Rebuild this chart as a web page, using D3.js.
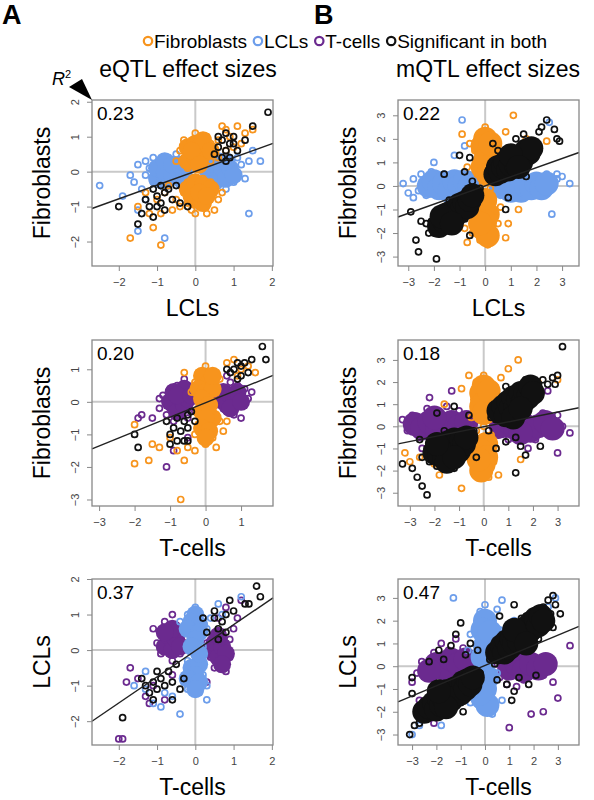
<!DOCTYPE html>
<html><head><meta charset="utf-8">
<script src="https://cdn.jsdelivr.net/npm/d3@7"></script>
<style>body{margin:0;background:#fff}text{font-family:Arial,"Liberation Sans",sans-serif}</style>
</head><body><svg id="c" width="594" height="800"></svg>
<script>
const legendLabels=["Fibroblasts","LCLs","T-cells","Significant in both"];
const r2Labels=["0.23","0.22","0.20","0.18","0.37","0.47"];
const xTitles=["LCLs","LCLs","T-cells","T-cells","T-cells","T-cells"];
const yTitles=["Fibroblasts","Fibroblasts","Fibroblasts","Fibroblasts","LCLs","LCLs"];
const xTicks=[[-2,-1,0,1,2],[-3,-2,-1,0,1,2,3],[-3,-2,-1,0,1],[-3,-2,-1,0,1,2,3],[-2,-1,0,1,2],[-3,-2,-1,0,1,2,3]];
const yTicks=[[-2,-1,0,1,2],[-3,-2,-1,0,1,2,3],[-3,-2,-1,0,1],[-3,-2,-1,0,1,2,3],[-2,-1,0,1,2],[-3,-2,-1,0,1,2,3]];
const fitSlope=[0.394,0.388,0.443,0.222,0.734,0.445];
const fitIntercept=[0.01,0.0,-0.03,-0.02,-0.02,0.03];

const blueA1=[[-2.5,-0.4],[-1.9,-0.7],[-1.7,-0.1],[-1.6,-0.3],[-1.5,0.2],[-1.4,-0.5],[-1.3,0.3],[-1.3,-0.1],[-1.2,0.1],[-1.1,-0.3],[-1.1,0.4],[-1.0,0.0],[-1.0,0.2],[-0.9,-0.2],[-0.9,0.3],[-0.8,0.1],[-0.8,-0.4],[-0.7,0.0],[-0.7,0.4],[-0.6,-0.2],[-0.6,0.2],[-0.5,0.5],[-0.5,-0.1],[-0.4,0.1],[-0.4,-0.4],[-0.3,0.3],[-0.2,0.0],[0.2,0.0],[0.3,-0.3],[0.4,0.2],[0.5,-0.1],[0.5,0.3],[0.6,0.0],[0.6,-0.4],[0.7,0.2],[0.7,-0.2],[0.8,0.0],[0.8,-0.5],[0.9,0.3],[0.9,-0.1],[1.0,0.1],[1.0,-0.3],[1.1,0.4],[1.1,-0.1],[1.2,0.2],[1.3,-0.2],[1.4,0.3],[1.5,0.6],[1.7,0.3],[1.4,-1.2],[-1.5,-1.7],[-0.8,-1.9],[-1.5,-1.1],[-1.3,-0.8]];
const coreBlueA1=[[-1.0,-0.2],[-1.0,0.1],[-0.8,-0.3],[-0.8,0.0],[-0.8,0.3],[-0.6,-0.1],[-0.6,0.2],[-0.4,-0.2],[-0.4,0.2],[-0.3,0.0],[0.3,0.1],[0.4,-0.2],[0.5,0.1],[0.6,-0.2],[0.7,0.1],[0.8,-0.2],[0.9,0.1],[1.0,-0.1],[0.6,0.3],[0.8,0.3]];
const orangeA1=[[-0.4,0.6],[-0.3,0.3],[-0.3,0.9],[-0.2,0.5],[-0.2,0.1],[-0.1,0.8],[-0.1,0.4],[0,1.1],[0,0.6],[0,0.2],[0.1,0.9],[0.1,0.5],[0.2,0.7],[0.2,0.3],[0.3,1.0],[0.3,0.5],[0.4,0.8],[0.4,0.3],[0.5,0.6],[0.6,0.9],[-0.5,0.3],[0.6,0.4],[-0.3,-0.6],[-0.2,-0.3],[-0.2,-0.9],[-0.1,-0.5],[-0.1,-1.1],[0,-0.2],[0,-0.7],[0.1,-0.4],[0.1,-1.0],[0.2,-0.6],[0.2,-0.2],[0.3,-0.9],[0.3,-0.5],[0.4,-0.3],[0.4,-0.7],[0.5,-0.5],[0.6,-0.8],[-0.4,-1.0],[0.0,-1.2],[0.3,-1.2],[0.5,-1.1],[0.7,-0.6],[-1.7,-1.9],[-1.5,-1.0],[-1.2,-1.2],[-1.0,-0.8],[-0.9,-1.2],[-0.8,-0.6],[-0.6,-1.1],[-0.5,-0.8],[-0.7,-0.4],[0.8,1.2],[0.9,1.0],[1.0,0.7],[1.1,1.3],[1.2,0.8],[1.3,1.1],[0.7,1.3],[1.5,1.2],[-1.1,-1.6],[-0.9,-2.1],[0.8,0.6],[-1.3,-0.6]];
const coreOrangeA1=[[-0.2,0.3],[-0.2,0.7],[0,0.4],[0,0.8],[0.2,0.5],[0.2,0.9],[0.4,0.6],[-0.1,0.6],[0.1,0.2],[-0.2,-0.5],[0,-0.3],[0,-0.8],[0.2,-0.4],[0.2,-0.9],[0.4,-0.5],[-0.1,-0.7],[0.1,-0.6],[0.3,-0.7]];
const blackA1=[[-2.0,-1.0],[-1.5,-1.5],[-1.4,-1.2],[-1.3,-0.8],[-1.2,-1.0],[-1.1,-0.5],[-1.1,-1.3],[-1.0,-0.7],[-1.0,-1.0],[-0.9,-0.4],[-0.9,-0.9],[-0.8,-0.6],[-0.8,-1.1],[-0.7,-0.5],[-0.6,-0.8],[-0.5,-0.4],[-0.4,-0.9],[-0.2,-1.0],[1.9,1.7],[1.5,1.3],[1.3,0.9],[1.1,0.6],[1.0,1.0],[0.9,0.8],[0.9,0.4],[0.8,1.1],[0.8,0.6],[0.7,0.9],[0.7,0.4],[0.6,0.7],[0.6,1.0],[0.5,0.5],[1.0,0.8],[0.8,0.3]];

const purpleA2=[[-1.9,-0.5],[-1.8,-0.4],[-1.5,-0.5],[-1.3,-0.2],[-1.2,0.2],[-1.1,-0.4],[-1.1,0.0],[-1.0,0.4],[-1.0,-0.2],[-0.9,0.1],[-0.9,-0.6],[-0.8,0.5],[-0.8,-0.1],[-0.8,0.3],[-0.7,-0.4],[-0.7,0.1],[-0.6,0.4],[-0.6,-0.2],[-0.5,0.2],[-0.5,-0.5],[-0.4,0.0],[-0.4,0.4],[-0.3,-0.3],[-0.3,0.2],[-0.6,0.7],[-1.3,0.1],[0.3,0.2],[0.4,-0.1],[0.5,0.4],[0.5,0.0],[0.6,-0.3],[0.6,0.3],[0.7,0.6],[0.7,0.0],[0.8,-0.4],[0.8,0.2],[0.9,0.5],[0.9,-0.1],[1.0,0.2],[1.0,-0.5],[1.1,0.4],[1.2,0.1],[0.6,0.8],[1.3,0.3],[-1.1,-2.0],[-0.9,-1.5],[-0.5,-1.1]];
const corePurpleA2=[[-1.0,0.0],[-0.9,0.3],[-0.8,-0.3],[-0.7,0.1],[-0.6,0.4],[-0.6,-0.1],[-0.5,0.1],[-0.8,0.2],[-0.4,0.2],[0.4,0.1],[0.5,0.3],[0.6,-0.1],[0.7,0.2],[0.8,0.0],[0.9,0.3],[0.7,-0.2],[1.0,0.0]];
const orangeA2=[[0,1.1],[-0.2,0.9],[0.1,0.8],[-0.3,0.6],[0.2,0.6],[0,0.5],[-0.1,0.3],[0.3,0.3],[0.1,0.2],[-0.2,0.0],[0.2,0.0],[0,-0.2],[-0.1,-0.4],[0.3,-0.4],[0.1,-0.6],[-0.2,-0.7],[0.2,-0.8],[0,-0.9],[-0.1,-1.1],[0.2,-1.1],[0,-1.3],[-0.3,-1.0],[0.4,-0.6],[0.3,0.9],[-0.4,0.3],[0.4,0.7],[-0.5,-1.4],[-0.3,-1.5],[0.3,-1.4],[-1.6,-1.8],[-2.0,-1.9],[-1.5,-1.3],[-1.3,-1.4],[-1.0,-1.1],[-0.8,-1.5],[-0.7,-3.0],[-0.6,-1.8],[-2.0,-0.7],[0.6,1.2],[0.8,1.3],[1.0,1.0],[1.2,1.1],[1.4,0.9],[0.9,0.8],[-0.6,0.9],[0.5,-0.9],[0.6,-0.6]];
const coreOrangeA2=[[-0.1,0.8],[0.1,0.6],[-0.2,0.4],[0,0.3],[0.2,0.4],[-0.1,0.1],[0.1,-0.1],[-0.1,-0.3],[0.2,-0.5],[0,-0.5],[-0.1,-0.8],[0.1,-0.9],[0,-1.1],[0.2,0.8]];
const blackA2=[[-2.0,-1.0],[-1.9,-1.4],[-1.1,-0.6],[-1.0,-1.0],[-1.0,-1.3],[-0.9,-0.8],[-0.8,-1.2],[-0.8,-0.5],[-0.7,-0.9],[-0.6,-0.6],[-0.5,-0.4],[-0.5,-0.8],[-0.4,-0.3],[-0.3,-0.6],[-0.6,-1.2],[-0.5,-1.2],[1.6,1.7],[1.7,1.3],[1.3,1.3],[1.1,1.2],[1.0,1.1],[0.9,1.2],[0.8,1.0],[0.7,0.9],[1.0,0.8],[0.6,1.0],[0.9,0.7],[1.2,0.9]];

const purpleA3=[[-1.0,0.2],[-0.9,0.5],[-0.9,-0.1],[-0.8,0.3],[-0.8,0.8],[-0.7,0.0],[-0.7,0.5],[-0.6,0.3],[-0.6,-0.3],[-0.5,0.7],[-0.5,0.1],[-0.4,0.4],[-0.4,-0.1],[-0.3,0.2],[-1.1,0.6],[-0.6,1.0],[0.3,0.2],[0.4,-0.2],[0.5,0.4],[0.5,-0.5],[0.6,0.1],[0.6,-0.3],[0.7,0.5],[0.7,-0.1],[0.8,0.2],[0.8,-0.6],[0.9,0.3],[0.9,-0.2],[1.0,0.6],[0.6,0.9],[0.8,1.2],[1.1,0.9],[1.2,1.4],[-1.7,-0.5],[-1.5,-0.8],[-1.3,-1.3],[-1.2,-1.5],[-1.8,-0.9],[-1.1,-1.0],[-0.8,-1.4],[-2.0,-2.5],[-1.9,-2.5],[-0.6,-0.7],[0.3,-0.9]];
const corePurpleA3=[[-0.8,0.1],[-0.7,0.4],[-0.6,0.0],[-0.5,0.3],[-0.6,0.6],[-0.4,0.1],[-0.8,0.5],[0.4,0.0],[0.5,0.2],[0.6,-0.2],[0.7,0.1],[0.8,-0.1],[0.6,0.4],[0.7,-0.4]];
const blueA3=[[0,1.2],[-0.2,1.0],[0.2,0.9],[-0.4,0.8],[0,0.7],[0.3,0.6],[-0.2,0.5],[0.1,0.4],[-0.1,0.2],[0.2,0.1],[0,-0.1],[-0.2,-0.3],[0.2,-0.3],[0,-0.5],[-0.1,-0.7],[0.2,-0.7],[0,-0.9],[-0.2,-1.1],[0.1,-1.2],[-0.3,-0.9],[0.3,-1.0],[0.4,0.9],[0.6,1.3],[0.7,1.0],[1.2,1.5],[-0.6,-1.3],[-0.8,-1.2],[-0.9,-1.6],[-1.1,-1.5],[-1.3,-1.1],[-1.6,-1.0],[-0.4,-1.8],[0.3,-1.4],[-1.3,-0.6]];
const coreBlueA3=[[0,1.0],[-0.1,0.8],[0.1,0.7],[-0.2,0.6],[0.1,0.5],[0,0.3],[-0.1,-0.5],[0.1,-0.4],[0,-0.7],[-0.2,-0.8],[0.1,-0.9],[0,-1.1],[-0.1,0.1],[0.1,-0.1]];
const blackA3=[[-1.9,-1.9],[-1.4,-0.8],[-1.3,-1.0],[-1.2,-1.2],[-1.1,-0.9],[-1.0,-0.6],[-1.0,-1.1],[-0.9,-0.8],[-0.8,-1.0],[-0.7,-0.6],[-0.6,-0.9],[-0.5,-0.4],[-0.4,-1.1],[-0.3,-0.8],[-0.6,-1.4],[-1.1,-1.4],[1.6,1.8],[1.7,1.5],[1.4,1.3],[1.3,1.3],[1.0,1.1],[0.9,1.4],[0.8,1.0],[0.7,0.8],[0.6,0.6],[0.5,0.9],[0.6,0.3],[0.8,0.5],[0.5,1.1],[0.3,0.5],[0.2,0.9]];

const blueB1=[[-3.2,0.1],[-3.0,-0.3],[-2.8,0.3],[-2.6,-0.2],[-2.5,0.5],[-2.4,0.0],[-2.3,-0.4],[-2.2,0.2],[-2.1,0.6],[-2.0,-0.1],[-1.9,0.3],[-1.8,-0.3],[-1.7,0.1],[-1.6,0.5],[-1.5,-0.1],[-1.4,0.3],[-1.3,-0.4],[-1.2,0.1],[-1.1,0.4],[-1.0,-0.2],[-0.9,0.2],[-0.8,0.5],[-0.7,0.0],[-0.6,0.3],[-0.5,-0.3],[-0.4,0.1],[0.4,-0.1],[0.5,0.2],[0.6,-0.4],[0.7,0.0],[0.8,-0.2],[0.9,0.2],[1.0,-0.5],[1.1,-0.1],[1.2,0.1],[1.3,-0.3],[1.4,0.0],[1.5,-0.4],[1.6,0.2],[1.7,-0.1],[1.8,0.3],[1.9,-0.3],[2.0,0.0],[2.1,0.4],[2.2,-0.2],[2.3,0.1],[2.4,0.5],[2.5,-0.1],[2.6,0.2],[2.8,0.3],[3.0,0.4],[3.3,0.1],[2.6,-1.2],[2.5,2.7],[-2.0,1.0],[-1.2,1.3],[-0.9,2.8],[-0.8,1.7],[-2.8,-0.5],[2.8,0.5]];
const coreBlueB1=[[-2.2,0.0],[-2.0,0.2],[-1.8,-0.1],[-1.6,0.1],[-1.4,-0.2],[-1.2,0.2],[-1.0,0.0],[-0.8,0.2],[-0.6,0.0],[0.6,0.0],[0.8,0.1],[1.0,-0.2],[1.2,0.0],[1.4,-0.2],[1.6,0.0],[1.8,-0.1],[2.0,0.1],[2.2,-0.1],[2.4,0.1]];
const orangeB1=[[0,2.5],[-0.2,2.2],[0.2,2.0],[-0.3,1.8],[0.1,1.6],[-0.1,1.4],[0.3,1.2],[-0.2,1.0],[0.0,0.8],[0.2,0.6],[-0.3,0.5],[0.1,0.3],[-0.1,0.1],[0.2,-0.1],[-0.2,-0.3],[0.0,-0.5],[0.3,-0.7],[-0.1,-0.9],[0.2,-1.1],[-0.2,-1.3],[0.1,-1.5],[-0.1,-1.7],[0.3,-1.9],[0.0,-2.1],[-0.2,-2.3],[0.1,-2.5],[-0.4,1.5],[0.4,1.8],[0.5,-1.6],[-0.5,-2.0],[1.1,3.0],[-0.9,2.2],[0.8,2.3],[-0.7,-2.4],[0.8,-2.2],[-0.8,-1.8],[-0.7,0.8],[0.6,1.1],[-0.6,1.8],[0.6,-0.9],[0.5,0.5],[0.9,-1.6],[-1.5,-1.1],[1.3,-1.0],[2.4,1.9],[1.6,2.0]];
const coreOrangeB1=[[0,2.0],[-0.1,1.7],[0.1,1.4],[0,1.1],[-0.1,0.8],[0.1,0.5],[0,-0.6],[-0.1,-0.9],[0.1,-1.2],[0,-1.5],[-0.1,-1.8],[0.1,-2.1],[0.2,1.8],[-0.2,-1.6]];
const blackB1=[[-2.0,-2.0],[-1.9,-1.7],[-1.8,-1.4],[-1.8,-1.9],[-1.7,-1.6],[-1.6,-1.2],[-1.6,-1.8],[-1.5,-1.4],[-1.5,-1.0],[-1.4,-1.6],[-1.4,-1.2],[-1.3,-0.9],[-1.3,-1.4],[-1.2,-1.1],[-1.2,-0.7],[-1.1,-1.3],[-1.1,-0.9],[-1.0,-1.1],[-1.0,-0.6],[-0.9,-0.8],[-0.9,-1.2],[-0.8,-1.0],[-0.8,-0.5],[-0.7,-0.7],[-0.7,-1.1],[-0.6,-0.4],[-0.6,-0.8],[-0.5,-0.6],[-0.4,-0.3],[-0.3,-0.5],[-0.2,-0.1],[-1.0,-1.5],[-1.2,-1.8],[-0.8,-1.4],[-1.7,-1.1],[-2.1,-1.5],[-2.3,-1.6],[-2.5,-1.5],[-2.7,-2.3],[-2.6,-2.8],[-1.9,-3.1],[-2.9,-1.1],[-2.2,-2.0],[-0.6,-2.1],[-1.4,-0.6],[-1.6,0.5],[-1.0,1.3],[-0.8,0.6],[-0.5,0.2],[0.2,0.3],[0.3,0.6],[0.4,0.2],[0.4,0.9],[0.5,0.5],[0.6,0.8],[0.6,1.2],[0.7,0.4],[0.7,1.0],[0.8,0.7],[0.8,1.3],[0.9,0.9],[0.9,0.5],[1.0,1.1],[1.0,0.7],[1.1,1.4],[1.1,0.9],[1.2,1.2],[1.2,0.6],[1.3,1.0],[1.3,1.5],[1.4,1.3],[1.4,0.8],[1.5,1.1],[1.5,1.6],[1.6,1.4],[1.7,1.2],[1.7,1.7],[1.8,1.5],[1.9,1.8],[2.0,1.6],[2.1,2.3],[2.2,2.5],[2.4,2.8],[2.7,2.4],[2.8,2.0],[2.9,1.9],[1.5,2.2],[1.2,2.0],[0.5,1.5],[0.9,-0.5],[0.3,1.8],[-0.6,1.2],[1.6,0.4],[0.8,-1.0]];
const coreBlackB1=[[-1.8,-1.7],[-1.6,-1.5],[-1.5,-1.2],[-1.4,-1.4],[-1.3,-1.1],[-1.2,-1.3],[-1.1,-1.0],[-1.0,-0.8],[-0.9,-1.0],[-0.8,-0.7],[-0.7,-0.9],[-0.6,-0.6],[-0.5,-0.4],[-1.7,-1.3],[-1.3,-1.6],[0.4,0.5],[0.5,0.8],[0.6,0.6],[0.7,0.8],[0.8,1.0],[0.9,0.7],[1.0,0.9],[1.1,1.2],[1.2,0.9],[1.3,1.2],[1.4,1.0],[1.5,1.3],[1.6,1.5],[1.7,1.4],[1.8,1.6],[1.0,1.3],[1.3,0.8]];

const purpleB2=[[-3.3,0.3],[-3.1,-0.2],[-2.9,0.5],[-2.7,0.0],[-2.6,-0.5],[-2.5,0.3],[-2.3,0.8],[-2.2,-0.1],[-2.1,0.4],[-2.0,-0.4],[-1.9,0.1],[-1.8,0.6],[-1.7,-0.2],[-1.6,0.3],[-1.5,0.9],[-1.4,0.0],[-1.3,0.5],[-1.2,-0.3],[-1.1,0.2],[-1.0,0.7],[-0.9,-0.1],[-0.8,0.4],[-0.7,0.1],[-0.6,-0.3],[0.5,0.1],[0.6,-0.4],[0.7,0.3],[0.8,-0.1],[0.9,0.5],[1.0,-0.6],[1.1,0.1],[1.2,-0.3],[1.3,0.4],[1.4,-0.1],[1.5,0.2],[1.6,-0.5],[1.7,0.0],[1.8,0.4],[1.9,-0.2],[2.0,0.1],[2.1,-0.6],[2.2,0.3],[2.3,-0.1],[2.4,0.6],[2.5,0.0],[2.6,-0.3],[2.8,0.2],[3.0,0.5],[3.2,0.0],[3.5,-0.3],[3.0,-1.2],[-2.2,1.3],[-1.3,1.6],[2.6,1.6],[1.8,-1.0],[-2.5,-1.0]];
const corePurpleB2=[[-2.8,0.1],[-2.5,-0.1],[-2.2,0.2],[-1.9,-0.2],[-1.6,0.0],[-1.3,0.2],[-1.0,0.0],[-0.7,0.2],[0.7,0.0],[1.0,0.2],[1.3,-0.1],[1.6,0.1],[1.9,-0.2],[2.2,0.0],[2.5,0.2],[2.8,-0.1],[1.5,-0.3],[-2.0,0.4]];
const orangeB2=[[0,2.3],[-0.3,2.0],[0.2,1.9],[-0.2,1.6],[0.1,1.4],[-0.4,1.2],[0.3,1.0],[0.0,0.8],[-0.2,0.5],[0.2,0.3],[0.0,0.0],[-0.3,-0.2],[0.3,-0.4],[0.0,-0.6],[-0.2,-0.9],[0.2,-1.1],[0.0,-1.3],[-0.3,-1.5],[0.3,-1.7],[0.0,-1.9],[-0.2,-2.1],[0.2,-2.3],[0.6,-2.2],[-0.9,-2.8],[0.7,2.2],[1.0,2.6],[1.4,3.0],[-0.9,1.7],[-1.6,1.0],[-0.6,-1.4],[0.5,-1.0],[0.6,0.9],[-0.5,0.4],[-3.2,-1.2],[-3.0,-1.6],[-2.6,-1.4],[-1.8,-2.2],[2.2,2.0],[3.0,2.1],[-0.6,2.3],[0.5,1.6],[0.4,-1.6],[-2.0,-1.7],[1.5,-1.5]];
const coreOrangeB2=[[0,1.8],[-0.1,1.5],[0.1,1.2],[-0.1,0.9],[0,0.6],[0.1,-0.8],[-0.1,-1.1],[0.1,-1.4],[0,-1.7],[-0.1,-2.0],[0.2,1.6],[-0.2,-1.5]];
const blackB2=[[-2.5,-1.4],[-2.3,-1.0],[-2.2,-1.6],[-2.1,-1.2],[-2.0,-0.8],[-1.9,-1.4],[-1.8,-1.0],[-1.7,-0.6],[-1.7,-1.5],[-1.6,-1.1],[-1.5,-0.7],[-1.5,-1.3],[-1.4,-0.9],[-1.3,-0.5],[-1.3,-1.2],[-1.2,-0.8],[-1.1,-1.0],[-1.1,-0.4],[-1.0,-0.7],[-1.0,-1.3],[-0.9,-0.9],[-0.8,-0.5],[-0.8,-1.1],[-0.7,-0.7],[-0.6,-0.3],[-0.6,-0.9],[-0.5,-0.6],[-0.4,-0.2],[-1.4,-1.6],[-1.9,-1.8],[-2.7,-2.3],[-2.5,-2.7],[-2.3,-3.1],[-3.3,-1.7],[-2.9,-1.9],[-1.2,-1.9],[-2.6,-0.6],[-1.9,0.6],[-1.2,0.9],[-0.6,0.5],[-1.6,-0.2],[-0.3,-1.4],[0.3,0.4],[0.4,0.8],[0.5,0.3],[0.6,1.0],[0.7,0.6],[0.8,1.2],[0.8,0.3],[0.9,0.8],[1.0,1.4],[1.0,0.5],[1.1,1.0],[1.2,0.7],[1.2,1.6],[1.3,1.1],[1.4,0.6],[1.4,1.4],[1.5,1.0],[1.6,1.7],[1.6,0.7],[1.7,1.3],[1.8,1.0],[1.9,1.6],[2.0,1.2],[2.1,1.9],[2.2,1.5],[2.4,2.1],[2.6,1.9],[2.8,2.2],[3.0,2.3],[2.9,1.9],[1.7,2.1],[0.9,1.8],[1.3,-0.5],[1.5,-0.9],[0.9,-0.7],[1.7,-1.3],[2.3,-0.9],[1.3,-2.1],[3.2,3.6],[0.2,-0.2],[0.5,-1.0]];
const coreBlackB2=[[-2.0,-1.2],[-1.8,-1.3],[-1.7,-0.9],[-1.6,-1.4],[-1.5,-1.0],[-1.4,-0.7],[-1.3,-1.1],[-1.2,-0.6],[-1.1,-0.8],[-1.0,-1.1],[-0.9,-0.6],[-0.8,-0.8],[-0.7,-0.5],[-1.5,-1.6],[-1.2,-1.4],[-1.9,-0.8],[0.6,0.7],[0.8,0.9],[0.9,0.5],[1.0,1.1],[1.1,0.8],[1.2,1.3],[1.3,0.9],[1.4,1.2],[1.5,1.5],[1.6,1.1],[1.7,1.5],[1.8,1.3],[1.9,1.8],[2.0,1.5],[1.2,0.4],[1.5,0.8]];

const purpleB3=[[-3.0,-0.7],[-2.8,-0.3],[-2.6,0.2],[-2.4,-0.5],[-2.2,0.1],[-2.1,0.6],[-2.0,-0.2],[-1.9,0.4],[-1.8,1.0],[-1.7,0.2],[-1.6,-0.4],[-1.5,0.7],[-1.4,0.0],[-1.3,0.5],[-1.2,1.2],[-1.1,-0.2],[-1.0,0.3],[-0.9,0.8],[-0.8,0.0],[-0.7,0.4],[-0.6,-0.3],[0.5,0.1],[0.6,-0.5],[0.7,0.3],[0.8,-0.2],[0.9,-0.8],[1.0,0.0],[1.1,-0.4],[1.2,0.2],[1.3,-0.9],[1.4,-0.2],[1.5,0.3],[1.6,-0.6],[1.7,0.0],[1.8,-0.3],[1.9,0.5],[2.0,-0.1],[2.2,0.2],[2.4,-0.4],[2.6,0.4],[2.8,-0.7],[3.0,-1.4],[3.5,0.9],[1.9,-2.1],[1.0,-2.7],[2.4,-2.0],[-2.1,-2.5],[-2.7,-1.5]];
const corePurpleB3=[[-2.0,0.1],[-1.7,-0.1],[-1.4,0.3],[-1.1,0.1],[-0.8,0.3],[1.0,-0.1],[1.3,0.1],[1.6,-0.2],[1.9,0.1],[2.2,-0.1],[-2.3,-0.2],[2.5,0.1]];
const blueB3=[[0,2.7],[-0.2,2.4],[0.2,2.1],[-0.3,1.8],[0.1,1.5],[-0.2,1.2],[0.3,0.9],[0.0,0.6],[-0.3,0.3],[0.2,0.0],[-0.1,-0.3],[0.3,-0.6],[0.0,-0.9],[-0.3,-1.2],[0.2,-1.5],[-0.1,-1.8],[0.3,-2.1],[0.6,1.6],[-0.6,1.4],[0.7,-1.5],[-0.6,-1.6],[-1.3,3.0],[0.7,2.9],[1.2,2.0],[0.5,2.5],[-3.0,-3.0],[-2.7,-2.6],[-1.8,-2.6],[2.9,3.0],[2.6,2.6],[-0.7,0.7],[0.5,-0.3],[-0.5,-0.6]];
const coreBlueB3=[[0,2.0],[-0.1,1.6],[0.1,1.2],[0,0.9],[-0.1,0.4],[0.1,-0.5],[0,-1.0],[-0.1,-1.4],[0.1,-1.7],[0.2,1.5],[-0.2,-1.2]];
const blackB3=[[-3.1,-3.0],[-2.9,-2.6],[-2.7,-2.5],[-2.6,-2.1],[-2.5,-1.7],[-2.4,-2.2],[-2.3,-1.5],[-2.2,-1.9],[-2.1,-1.3],[-2.0,-1.7],[-2.0,-2.1],[-1.9,-1.1],[-1.8,-1.5],[-1.8,-1.9],[-1.7,-1.2],[-1.6,-1.6],[-1.5,-0.9],[-1.5,-1.4],[-1.4,-1.8],[-1.3,-1.1],[-1.2,-1.5],[-1.2,-0.7],[-1.1,-1.2],[-1.0,-0.9],[-1.0,-1.6],[-0.9,-1.3],[-0.8,-0.8],[-0.7,-1.1],[-0.6,-0.6],[-0.5,-0.9],[-0.4,-0.4],[-0.3,-0.7],[-0.2,-0.3],[-1.6,-2.1],[-0.9,-2.0],[-3.0,-1.2],[-2.8,-2.0],[-1.9,0.7],[-1.4,0.9],[-1.2,1.4],[-1.0,1.9],[-0.8,0.5],[-0.6,1.0],[-0.3,0.7],[-1.7,0.3],[-2.3,0.2],[-3.0,-0.5],[0.2,0.3],[0.3,0.7],[0.4,0.1],[0.5,1.0],[0.6,0.5],[0.7,1.3],[0.8,0.8],[0.9,0.3],[0.9,1.5],[1.0,1.0],[1.1,1.7],[1.1,0.6],[1.2,1.2],[1.3,1.9],[1.3,0.8],[1.4,1.4],[1.5,2.1],[1.5,1.0],[1.6,1.6],[1.7,1.2],[1.7,2.2],[1.8,1.8],[1.9,1.4],[2.0,2.0],[2.1,1.6],[2.2,2.4],[2.3,1.9],[2.4,2.6],[2.5,2.1],[2.6,2.9],[2.7,2.3],[2.8,3.1],[2.9,2.7],[3.1,2.3],[2.8,1.7],[2.2,1.2],[1.2,2.7],[0.6,2.2],[0.5,-0.6],[0.9,-0.8],[1.4,-0.5],[1.2,-1.1],[1.8,-0.8],[1.1,-1.5],[2.1,-0.4]];
const coreBlackB3=[[-2.5,-2.0],[-2.3,-1.8],[-2.1,-1.6],[-2.0,-1.9],[-1.9,-1.4],[-1.8,-1.7],[-1.7,-1.4],[-1.6,-1.1],[-1.5,-1.3],[-1.4,-1.5],[-1.3,-1.0],[-1.2,-1.2],[-1.1,-0.9],[-1.0,-1.2],[-0.9,-0.7],[-0.8,-1.0],[-0.7,-0.6],[-0.6,-0.8],[-0.5,-0.5],[-1.6,-1.8],[-1.9,-1.1],[0.5,0.6],[0.7,0.9],[0.8,0.6],[0.9,1.1],[1.0,0.8],[1.1,1.2],[1.2,1.0],[1.3,1.4],[1.4,1.1],[1.5,1.5],[1.6,1.3],[1.7,1.7],[1.8,1.5],[1.9,1.9],[2.0,1.7],[2.1,2.1],[2.2,1.8],[2.3,2.2],[2.4,2.0],[1.2,1.6],[1.7,1.0]];

const COL={o:"#f7941d",b:"#6d9eeb",p:"#6b2a8f",k:"#111"};
const panels=[
 {x0:92,y0:100,cr:9,xd:[-2.7,2.03],yd:[-2.7,2.05],series:[[blueA1,coreBlueA1,"b"],[orangeA1,coreOrangeA1,"o"],[blackA1,[],"k"]]},
 {x0:398,y0:100,cr:12,xd:[-3.4,3.66],yd:[-3.4,3.65],series:[[blueB1,coreBlueB1,"b"],[orangeB1,coreOrangeB1,"o"],[blackB1,coreBlackB1,"k"]]},
 {x0:92,y0:340,cr:9,xd:[-3.2,1.9],yd:[-3.2,1.9],series:[[purpleA2,corePurpleA2,"p"],[orangeA2,coreOrangeA2,"o"],[blackA2,[],"k"]]},
 {x0:398,y0:340,cr:12,xd:[-3.48,3.87],yd:[-3.6,3.9],series:[[purpleB2,corePurpleB2,"p"],[orangeB2,coreOrangeB2,"o"],[blackB2,coreBlackB2,"k"]]},
 {x0:92,y0:579,cr:9,xd:[-2.7,2.03],yd:[-2.67,2.0],series:[[purpleA3,corePurpleA3,"p"],[blueA3,coreBlueA3,"b"],[blackA3,[],"k"]]},
 {x0:398,y0:579,cr:12,xd:[-3.58,3.87],yd:[-3.46,3.83],series:[[purpleB3,corePurpleB3,"p"],[blueB3,coreBlueB3,"b"],[blackB3,coreBlackB3,"k"]]}
];
const W=181,H=166;
const svg=d3.select("#c");
panels.forEach((p,i)=>{
 const g=svg.append("g").attr("transform",`translate(${p.x0},${p.y0})`);
 const x=d3.scaleLinear().domain(p.xd).range([0,W]);
 const y=d3.scaleLinear().domain(p.yd).range([H,0]);
 g.append("line").attr("x1",x(0)).attr("x2",x(0)).attr("y1",0).attr("y2",H).attr("stroke","#c9c9c9").attr("stroke-width",2);
 g.append("line").attr("y1",y(0)).attr("y2",y(0)).attr("x1",0).attr("x2",W).attr("stroke","#c9c9c9").attr("stroke-width",2);
 p.series.forEach(([data,core,c])=>{
  g.append("g").selectAll("circle").data(data).join("circle")
   .attr("cx",d=>x(d[0])).attr("cy",d=>y(d[1])).attr("r",3)
   .attr("fill","none").attr("stroke",COL[c]).attr("stroke-width",1.7);
  g.append("g").selectAll("circle").data(core).join("circle")
   .attr("cx",d=>x(d[0])).attr("cy",d=>y(d[1])).attr("r",p.cr)
   .attr("fill",COL[c]);
 });
 g.append("line").attr("x1",x(p.xd[0])).attr("y1",y(fitIntercept[i]+fitSlope[i]*p.xd[0]))
  .attr("x2",x(p.xd[1])).attr("y2",y(fitIntercept[i]+fitSlope[i]*p.xd[1])).attr("stroke","#222").attr("stroke-width",1.4);
 g.append("rect").attr("width",W).attr("height",H).attr("fill","none").attr("stroke","#888").attr("stroke-width",1.3);
 const xa=g.append("g").attr("transform",`translate(0,${H})`).call(d3.axisBottom(x).tickValues(xTicks[i]).tickSize(5).tickFormat(d3.format("d")));
 const ya=g.append("g").call(d3.axisLeft(y).tickValues(yTicks[i]).tickSize(5).tickFormat(d3.format("d")));
 [xa,ya].forEach(a=>{a.select(".domain").remove();a.selectAll("line").attr("stroke","#888");a.selectAll("text").attr("fill","#444").style("font-size","11px").style("font-family","Arial,sans-serif");});
 xa.selectAll("text").attr("dy","1.1em");
 ya.selectAll("text").attr("transform","rotate(-90)").attr("x",0).attr("y",-13).attr("dy",0).attr("text-anchor","middle");
 g.append("text").attr("x",5).attr("y",20).text(r2Labels[i]).style("font-size","19px");
 g.append("text").attr("x",W/2+10).attr("y",H+50).attr("text-anchor","middle").text(xTitles[i]).style("font-size","23px");
 g.append("text").attr("transform",`translate(-42,${H/2}) rotate(-90)`).attr("text-anchor","middle").text(yTitles[i]).style("font-size","23px");
});
svg.append("text").attr("x",188).attr("y",77).attr("text-anchor","middle").text("eQTL effect sizes").style("font-size","23px");
svg.append("text").attr("x",488).attr("y",77).attr("text-anchor","middle").text("mQTL effect sizes").style("font-size","23px");
svg.append("text").attr("x",2).attr("y",24).text("A").style("font-size","27px").style("font-weight","bold");
svg.append("text").attr("x",314).attr("y",24).text("B").style("font-size","27px").style("font-weight","bold");
const lc=[COL.o,COL.b,COL.p,COL.k];
let lx=148;
legendLabels.forEach((t,i)=>{
 svg.append("circle").attr("cx",lx).attr("cy",41).attr("r",4.2).attr("fill","none").attr("stroke",lc[i]).attr("stroke-width",2.2);
 const tx=svg.append("text").attr("x",lx+6).attr("y",48).text(t).style("font-size","19px");
 lx+=6+tx.node().getComputedTextLength()+11;
});
const ra=svg.append("text").attr("x",52).attr("y",85).style("font-size","18px");
ra.append("tspan").text("R").style("font-style","italic");
ra.append("tspan").text("2").attr("dy",-7).style("font-size","11px");
svg.append("path").attr("d","M69,87 L82,79 L92,100 Z").attr("fill","#000");
</script></body></html>
